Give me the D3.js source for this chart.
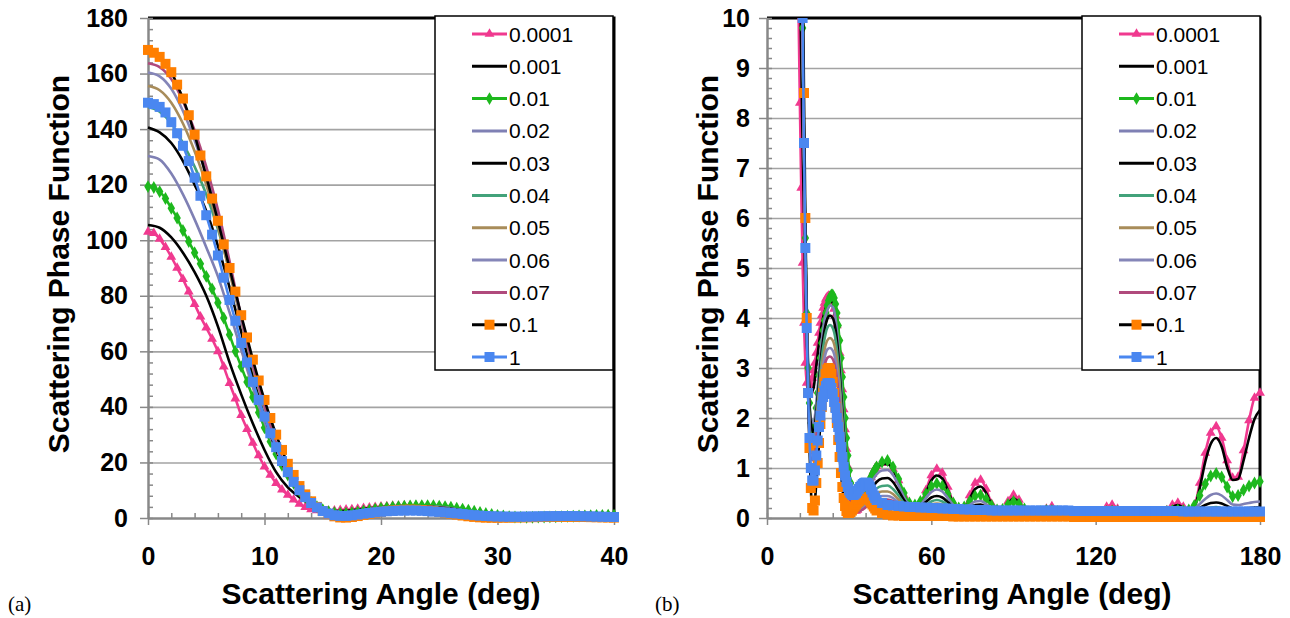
<!DOCTYPE html>
<html><head><meta charset="utf-8">
<script src="https://cdn.jsdelivr.net/npm/d3@7"></script>
<style>
body{margin:0;background:#fff}
svg{display:block}
text{font-family:"Liberation Sans",Arial,sans-serif}
text.tag{font-family:"Liberation Serif","Times New Roman",serif}
</style>
</head><body>
<svg id="c" width="1290" height="618"></svg>
<script>
// ---------------- DATA ----------------
const seriesNames = ["0.0001","0.001","0.01","0.02","0.03","0.04","0.05","0.06","0.07","0.1","1"];
const xTickLabelsA = [0,10,20,30,40];
const yTickLabelsA = [0,20,40,60,80,100,120,140,160,180];
const xTickLabelsB = [0,60,120,180];
const yTickLabelsB = [0,1,2,3,4,5,6,7,8,9,10];

// sampling angles (deg)
const angFine = d3.range(0, 40.25, 0.5);   // 81 angles, 0..40
const angCoarse = d3.range(0, 40.5, 1);    // 41 angles, 0..40
const angTail = d3.range(42, 180.5, 2);    // 70 angles, 42..180

// 0.0001 (fine + tail)
const s0001Head = [
103,102.5,100.5,97.5,94,90,86,81.5,77,72.5,
68.5,64.5,60,54.5,48.5,43,37,32,27,22.5,
18.5,15.5,12.5,10.2,8.3,6.6,5.1,3.9,3.1,2.7,
2.55,2.55,2.65,2.8,2.95,3.1,3.3,3.5,3.7,3.9,
4.05,4.2,4.3,4.38,4.42,4.44,4.44,4.4,4.32,4.18,
4.05,3.85,3.6,3.3,2.95,2.57,2.17,1.77,1.38,1.03,
0.73,0.49,0.31,0.2,0.15,0.14,0.16,0.2,0.25,0.31,
0.38,0.45,0.52,0.6,0.67,0.74,0.81,0.88,0.94,0.99,
1.03];
const s0001Tail = [
1.1,1.1,0.98,0.75,0.45,0.2,0.1,0.25,0.55,0.85,
0.98,0.9,0.62,0.3,0.1,0.18,0.45,0.7,0.76,0.58,
0.28,0.06,0.1,0.33,0.46,0.36,0.16,0.03,0.01,0.06,
0.18,0.23,0.12,0.02,0.0,0.01,0.03,0.02,0.0,0.02,
0.1,0.22,0.26,0.18,0.06,0.0,0.0,0.01,0.02,0.02,
0.02,0.06,0.15,0.26,0.3,0.22,0.12,0.22,0.7,1.3,
1.7,1.83,1.6,1.15,0.8,0.82,1.35,1.95,2.4,2.5];

// 0.001 (coarse + tail)
const s001Head = [
105.5,104.5,101,95.5,88.5,80,69,56,44.5,34,
24.5,16.5,11,7.5,4.6,3.0,2.5,2.6,3.05,3.5,
3.88,4.12,4.28,4.35,4.3,4.0,3.5,2.85,2.05,1.28,
0.68,0.3,0.15,0.14,0.2,0.33,0.47,0.61,0.74,0.86,
0.96];
const s001Tail = [
1.08,1.08,0.96,0.73,0.44,0.2,0.1,0.22,0.5,0.75,
0.85,0.79,0.56,0.28,0.1,0.15,0.38,0.58,0.63,0.5,
0.26,0.07,0.08,0.28,0.39,0.31,0.15,0.04,0.02,0.05,
0.14,0.18,0.1,0.03,0.01,0.02,0.03,0.02,0.01,0.02,
0.08,0.17,0.2,0.15,0.06,0.02,0.01,0.02,0.03,0.03,
0.03,0.06,0.13,0.22,0.26,0.2,0.12,0.2,0.6,1.12,
1.48,1.6,1.43,1.02,0.76,0.78,1.15,1.6,1.98,2.16];

// 0.01 (fine + tail)
const s01Head = [
119.3,119,117.5,115,111.5,108,103.5,99.5,95.5,91.5,
87,82.5,77.5,72,66,60,54.5,49,43.5,38,
32.5,27.5,23,19,15.5,12.5,9.8,7.5,5.6,4.1,
3.0,2.3,1.9,1.7,1.75,1.9,2.2,2.5,2.85,3.2,
3.5,3.75,3.95,4.1,4.25,4.35,4.42,4.46,4.46,4.4,
4.28,4.1,3.85,3.55,3.2,2.82,2.42,2.0,1.6,1.25,
0.95,0.7,0.5,0.37,0.3,0.27,0.27,0.3,0.34,0.39,
0.45,0.51,0.57,0.64,0.7,0.76,0.82,0.88,0.93,0.98,
1.02];
const s01Tail = [
1.12,1.15,1.02,0.78,0.5,0.3,0.26,0.33,0.48,0.63,
0.69,0.64,0.48,0.3,0.2,0.22,0.33,0.44,0.46,0.38,
0.25,0.16,0.17,0.27,0.33,0.28,0.18,0.12,0.11,0.13,
0.15,0.15,0.13,0.11,0.1,0.1,0.1,0.1,0.1,0.1,
0.11,0.13,0.14,0.13,0.11,0.1,0.1,0.1,0.1,0.1,
0.1,0.11,0.13,0.15,0.16,0.15,0.16,0.25,0.45,0.68,
0.84,0.89,0.82,0.62,0.43,0.45,0.56,0.64,0.7,0.73];

// 0.02 (coarse + tail)
const s02Head = [
130.3,129,124,116.5,107.5,97.5,87,74,60.5,47,
34.5,24,15.5,9.5,5.5,3.1,2.0,1.9,2.3,2.95,
3.55,3.95,4.15,4.25,4.22,4.0,3.5,2.75,1.9,1.12,
0.55,0.25,0.18,0.2,0.27,0.36,0.46,0.57,0.68,0.79,
0.87];
const s02Tail = [
0.95,0.96,0.86,0.66,0.42,0.25,0.2,0.26,0.4,0.52,
0.57,0.53,0.4,0.26,0.18,0.19,0.26,0.33,0.34,0.28,
0.19,0.13,0.13,0.18,0.22,0.19,0.13,0.1,0.09,0.09,
0.1,0.1,0.1,0.09,0.09,0.09,0.09,0.09,0.09,0.09,
0.09,0.1,0.1,0.1,0.09,0.09,0.09,0.09,0.09,0.09,
0.09,0.1,0.11,0.12,0.12,0.12,0.13,0.18,0.28,0.38,
0.46,0.49,0.45,0.36,0.27,0.26,0.28,0.3,0.32,0.33];

// 0.03 (coarse + tail)
const s03Head = [
140.6,138.8,135,128.5,120,110.5,98,83,67,51,
37,24.5,15.5,9.2,5.2,2.9,1.9,1.7,2.1,2.75,
3.35,3.75,3.98,4.05,4.0,3.78,3.3,2.55,1.75,1.02,
0.5,0.24,0.17,0.18,0.23,0.3,0.38,0.47,0.56,0.65,
0.72];
const s03Tail = [
0.79,0.8,0.72,0.55,0.36,0.22,0.18,0.22,0.32,0.41,
0.44,0.41,0.32,0.22,0.16,0.16,0.21,0.26,0.27,0.22,
0.16,0.11,0.11,0.14,0.17,0.15,0.11,0.09,0.08,0.08,
0.09,0.09,0.09,0.08,0.08,0.08,0.08,0.08,0.08,0.08,
0.08,0.09,0.09,0.09,0.08,0.08,0.08,0.08,0.08,0.08,
0.08,0.09,0.09,0.1,0.1,0.09,0.1,0.13,0.2,0.26,
0.3,0.31,0.29,0.24,0.19,0.18,0.19,0.2,0.21,0.22];

// 0.04 (coarse + tail)
const s04Head = [
148,146.3,142,135,126.5,116.5,104,89,72,55,
39.5,26,16.2,9.5,5.2,2.7,1.6,1.55,1.95,2.6,
3.2,3.58,3.8,3.86,3.8,3.58,3.1,2.38,1.62,0.95,
0.48,0.24,0.16,0.16,0.2,0.26,0.33,0.4,0.47,0.54,
0.59];
const s04Tail = [
0.64,0.65,0.58,0.45,0.3,0.19,0.16,0.19,0.26,0.33,
0.36,0.33,0.26,0.18,0.14,0.14,0.18,0.21,0.22,0.18,
0.13,0.1,0.1,0.12,0.14,0.12,0.1,0.08,0.08,0.08,
0.08,0.08,0.08,0.08,0.08,0.08,0.08,0.08,0.08,0.08,
0.08,0.08,0.08,0.08,0.08,0.08,0.08,0.08,0.08,0.08,
0.08,0.08,0.08,0.08,0.09,0.09,0.09,0.1,0.14,0.18,
0.21,0.22,0.2,0.17,0.14,0.13,0.14,0.15,0.16,0.16];

// 0.05 (coarse + tail)
const s05Head = [
155.5,154,149.5,142,132,120,105,88.5,71,54,
39.5,26.3,16.7,9.8,5.3,2.7,1.45,1.4,1.85,2.45,
3.0,3.36,3.55,3.6,3.55,3.35,2.9,2.22,1.5,0.88,
0.45,0.23,0.15,0.14,0.17,0.22,0.28,0.34,0.4,0.45,
0.49];
const s05Tail = [
0.53,0.53,0.48,0.37,0.25,0.17,0.14,0.17,0.22,0.27,
0.29,0.27,0.21,0.15,0.12,0.12,0.15,0.17,0.18,0.15,
0.11,0.09,0.09,0.1,0.11,0.1,0.08,0.07,0.07,0.07,
0.07,0.07,0.07,0.07,0.07,0.07,0.07,0.07,0.07,0.07,
0.07,0.07,0.07,0.07,0.07,0.07,0.07,0.07,0.07,0.07,
0.07,0.07,0.07,0.07,0.08,0.08,0.08,0.09,0.11,0.13,
0.15,0.15,0.14,0.12,0.1,0.1,0.1,0.11,0.11,0.11];

// 0.06 (coarse + tail)
const s06Head = [
160.4,159,154.5,146.5,136,123.5,108.5,91,72,55,
40,26.5,16.7,9.8,5.2,2.6,1.3,1.3,1.75,2.3,
2.85,3.2,3.37,3.4,3.35,3.15,2.72,2.08,1.4,0.82,
0.42,0.22,0.14,0.13,0.15,0.19,0.24,0.29,0.34,0.38,
0.41];
const s06Tail = [
0.44,0.44,0.4,0.31,0.22,0.15,0.13,0.15,0.19,0.23,
0.24,0.22,0.18,0.13,0.11,0.11,0.13,0.15,0.15,0.13,
0.1,0.08,0.08,0.09,0.1,0.09,0.07,0.06,0.06,0.06,
0.06,0.06,0.06,0.06,0.06,0.06,0.06,0.06,0.06,0.06,
0.06,0.06,0.06,0.06,0.06,0.06,0.06,0.06,0.06,0.06,
0.06,0.06,0.06,0.06,0.07,0.07,0.07,0.08,0.09,0.11,
0.12,0.12,0.11,0.1,0.09,0.08,0.08,0.09,0.09,0.09];

// 0.07 (coarse + tail)
const s07Head = [
163.7,162.3,158,150,139.5,126.5,111,92.5,72.5,55.5,
40.5,27,16.9,9.8,5.1,2.5,1.2,1.15,1.62,2.18,
2.7,3.04,3.2,3.23,3.18,2.98,2.56,1.95,1.3,0.76,
0.4,0.21,0.14,0.12,0.14,0.17,0.21,0.25,0.29,0.32,
0.35];
const s07Tail = [
0.37,0.37,0.34,0.27,0.19,0.14,0.12,0.13,0.16,0.19,
0.2,0.19,0.15,0.12,0.1,0.1,0.11,0.12,0.13,0.11,
0.09,0.07,0.07,0.08,0.09,0.08,0.07,0.06,0.06,0.06,
0.06,0.06,0.06,0.06,0.06,0.06,0.06,0.06,0.06,0.06,
0.06,0.06,0.06,0.06,0.06,0.06,0.06,0.06,0.06,0.06,
0.06,0.06,0.06,0.06,0.06,0.06,0.07,0.07,0.08,0.09,
0.1,0.1,0.09,0.08,0.07,0.07,0.07,0.07,0.07,0.07];

// 0.1 (fine + tail)
const s1Head = [
168.5,167.5,166,163.5,160.5,156,151,145,138,130.5,
123,115,107,98.5,90,81.5,73,65,57,49.5,
42.5,36,30,24.5,19.5,15.5,11.5,8.5,6,4,
2.5,1.4,0.6,0.2,0.15,0.35,0.7,1.1,1.5,1.88,
2.22,2.5,2.72,2.88,2.97,3.0,2.97,2.88,2.72,2.5,
2.22,1.9,1.56,1.22,0.9,0.62,0.4,0.24,0.14,0.1,
0.1,0.12,0.15,0.19,0.23,0.27,0.31,0.34,0.37,0.39,
0.4,0.41,0.41,0.4,0.38,0.35,0.31,0.27,0.23,0.19,
0.15];
const s1Tail = [
0.1,0.07,0.05,0.05,0.04,0.04,0.04,0.04,0.04,0.04,
0.04,0.04,0.04,0.03,0.03,0.03,0.03,0.03,0.03,0.03,
0.03,0.03,0.03,0.03,0.03,0.03,0.03,0.03,0.03,0.03,
0.03,0.03,0.03,0.03,0.03,0.02,0.02,0.02,0.02,0.02,
0.02,0.02,0.02,0.02,0.02,0.02,0.02,0.02,0.02,0.02,
0.02,0.02,0.02,0.02,0.02,0.02,0.02,0.02,0.02,0.02,
0.02,0.02,0.02,0.02,0.02,0.02,0.02,0.02,0.02,0.02];

// 1 (fine + tail)
const s10Head = [
149.5,149,148,146,142.5,138.5,134,128.5,122.5,116,
109,102,94.5,86.5,78.5,71,63,56,49,42.5,
36.5,30.5,25.5,20.5,16.5,13,10,7.5,5.4,3.8,
2.5,1.6,1.0,0.75,0.75,0.95,1.25,1.55,1.82,2.05,
2.25,2.42,2.55,2.64,2.69,2.7,2.68,2.6,2.48,2.32,
2.2,2.0,1.82,1.62,1.42,1.22,1.02,0.85,0.72,0.62,
0.55,0.5,0.47,0.46,0.47,0.5,0.54,0.58,0.62,0.65,
0.68,0.7,0.71,0.7,0.67,0.63,0.57,0.51,0.45,0.4,
0.36];
const s10Tail = [
0.3,0.26,0.25,0.24,0.23,0.22,0.22,0.21,0.21,0.2,
0.2,0.19,0.19,0.18,0.18,0.17,0.17,0.16,0.16,0.16,
0.15,0.15,0.15,0.15,0.15,0.15,0.15,0.15,0.15,0.15,
0.15,0.15,0.15,0.15,0.15,0.14,0.14,0.14,0.14,0.14,
0.14,0.14,0.14,0.14,0.14,0.14,0.14,0.14,0.14,0.14,
0.14,0.14,0.14,0.14,0.14,0.13,0.13,0.13,0.13,0.13,
0.13,0.13,0.13,0.13,0.13,0.13,0.13,0.13,0.13,0.13];

// ---------------- STYLES ----------------
const seriesHeads = [s0001Head,s001Head,s01Head,s02Head,s03Head,s04Head,s05Head,s06Head,s07Head,s1Head,s10Head];
const seriesTails = [s0001Tail,s001Tail,s01Tail,s02Tail,s03Tail,s04Tail,s05Tail,s06Tail,s07Tail,s1Tail,s10Tail];
const lineColors = ["#f0398f","#000000","#1db81d","#7f80b4","#000000","#42a27a","#a88c5a","#8586b8","#b04a7c","#000000","#4a87f0"];
const markerColors = ["#f0398f",null,"#1db81d",null,null,null,null,null,null,"#ff7f00","#4a87f0"];
const markerTypes = [d3.symbolTriangle,null,d3.symbolDiamond,null,null,null,null,null,null,d3.symbolSquare,d3.symbolSquare];
const markerSizes = [42,0,48,0,0,0,0,0,0,100,100];

const series = seriesNames.map((name,i)=>{
  const head = seriesHeads[i];
  const headAng = head.length === angFine.length ? angFine : angCoarse;
  const pts = headAng.map((a,j)=>[a, head[j]]).concat(angTail.map((a,j)=>[a, seriesTails[i][j]]));
  return {name, pts, line:lineColors[i], mc:markerColors[i], mt:markerTypes[i], ms:markerSizes[i]};
});

// ---------------- LAYOUT ----------------
const svg = d3.select("#c");
const panels = [
  {x0:148, x1:614, y0:18, y1:518, xd:[0,40], yd:[0,180], xt:xTickLabelsA, yt:yTickLabelsA,
   xm:d3.range(0,40.01,2), ym:d3.range(0,180.01,4), yPad:12,
   leg:{x:435,y:16,w:178,h:354}, tag:"(a)", tagX:8, ytX:69, xtX:381},
  {x0:767, x1:1260, y0:18, y1:518, xd:[0,180], yd:[0,10], xt:xTickLabelsB, yt:yTickLabelsB,
   xm:d3.range(0,180.01,12), ym:d3.range(0,10.001,0.2), yPad:9,
   leg:{x:1082,y:16,w:178,h:354}, tag:"(b)", tagX:655, ytX:718, xtX:1012}
];

panels.forEach((p,pi)=>{
  const x = d3.scaleLinear().domain(p.xd).range([p.x0,p.x1]);
  const y = d3.scaleLinear().domain(p.yd).range([p.y1,p.y0]);
  const g = svg.append("g");

  // gridlines
  g.append("g").attr("transform",`translate(${p.x0},0)`)
    .call(d3.axisLeft(y).tickValues(p.yt.filter(v=>v>p.yd[0] && v<p.yd[1])).tickSize(-(p.x1-p.x0)).tickFormat(""))
    .call(s=>s.select(".domain").remove())
    .selectAll("line").attr("stroke","#a3a3a3").attr("stroke-width",1.6);

  // plot border top & right
  g.append("path").attr("d",`M${p.x0},${p.y0}H${p.x1}V${p.y1}`)
    .attr("fill","none").attr("stroke","#000").attr("stroke-width",3);

  // minor ticks (inside)
  g.append("g").attr("transform",`translate(${p.x0},0)`)
    .call(d3.axisLeft(y).tickValues(p.ym).tickSize(-5).tickFormat("").tickSizeOuter(0))
    .call(s=>s.select(".domain").remove())
    .selectAll("line").attr("stroke","#888").attr("stroke-width",1.5);
  g.append("g").attr("transform",`translate(0,${p.y1})`)
    .call(d3.axisBottom(x).tickValues(p.xm).tickSize(-5).tickFormat("").tickSizeOuter(0))
    .call(s=>s.select(".domain").remove())
    .selectAll("line").attr("stroke","#888").attr("stroke-width",1.5);

  // major axes
  const yAx = g.append("g").attr("transform",`translate(${p.x0},0)`)
    .call(d3.axisLeft(y).tickValues(p.yt).tickSize(8).tickSizeOuter(0).tickPadding(p.yPad).tickFormat(d3.format("d")));
  const xAx = g.append("g").attr("transform",`translate(0,${p.y1})`)
    .call(d3.axisBottom(x).tickValues(p.xt).tickSize(7).tickSizeOuter(0).tickPadding(22).tickFormat(d3.format("d")));
  [yAx,xAx].forEach(a=>{
    a.select(".domain").attr("stroke","#888").attr("stroke-width",2.5);
    a.selectAll(".tick line").attr("stroke","#888").attr("stroke-width",1.5);
    a.selectAll(".tick text").attr("fill","#000").attr("font-size",25).attr("font-weight","bold");
  });

  // series
  const clipId = "clip"+pi;
  svg.append("defs").append("clipPath").attr("id",clipId).append("rect")
    .attr("x",p.x0-8).attr("y",p.y0).attr("width",p.x1-p.x0+16).attr("height",p.y1-p.y0+14);
  const sg = g.append("g").attr("clip-path",`url(#${clipId})`);
  const lineGen = d3.line().x(d=>x(d[0])).y(d=>y(d[1])).curve(d3.curveMonotoneX);
  series.forEach(s=>{
    const pts = s.pts.filter(d=>d[0]<=p.xd[1]);
    sg.append("path").datum(pts).attr("d",lineGen)
      .attr("fill","none").attr("stroke",s.line).attr("stroke-width",2.6).attr("stroke-linejoin","round");
    if(s.mt){
      const sym = d3.symbol(s.mt, s.ms)();
      sg.append("g").selectAll("path").data(pts.filter(d=>y(d[1])>p.y0-8)).join("path")
        .attr("transform",d=>`translate(${x(d[0])},${y(d[1])})`)
        .attr("d",sym).attr("fill",s.mc);
    }
  });

  // legend
  const L = p.leg;
  const lg = svg.append("g");
  lg.append("rect").attr("x",L.x).attr("y",L.y).attr("width",L.w).attr("height",L.h)
    .attr("fill","#fff").attr("stroke","#000").attr("stroke-width",1.5);
  const rowH = 32.3;
  series.forEach((s,i)=>{
    const cy = L.y + 18 + i*rowH;
    const lx0 = L.x + 37, lx1 = L.x + 72;
    lg.append("line").attr("x1",lx0).attr("x2",lx1).attr("y1",cy).attr("y2",cy)
      .attr("stroke",s.line).attr("stroke-width",3);
    if(s.mt){
      lg.append("path").attr("transform",`translate(${(lx0+lx1)/2},${cy})`)
        .attr("d",d3.symbol(s.mt, s.ms)()).attr("fill",s.mc);
    }
    lg.append("text").attr("x",L.x+74).attr("y",cy+7.5).attr("font-size",21).attr("fill","#000").text(s.name);
  });

  // axis titles
  svg.append("text").attr("transform",`translate(${p.ytX},${(p.y0+p.y1)/2 - 4}) rotate(-90)`)
    .attr("text-anchor","middle").attr("font-size",30).attr("font-weight","bold").text("Scattering Phase Function");
  svg.append("text").attr("x",p.xtX).attr("y",604)
    .attr("text-anchor","middle").attr("font-size",30).attr("font-weight","bold").text("Scattering Angle (deg)");
  svg.append("text").attr("class","tag").attr("x",p.tagX).attr("y",611)
    .attr("font-size",21).text(p.tag);
});
</script>
</body></html>
